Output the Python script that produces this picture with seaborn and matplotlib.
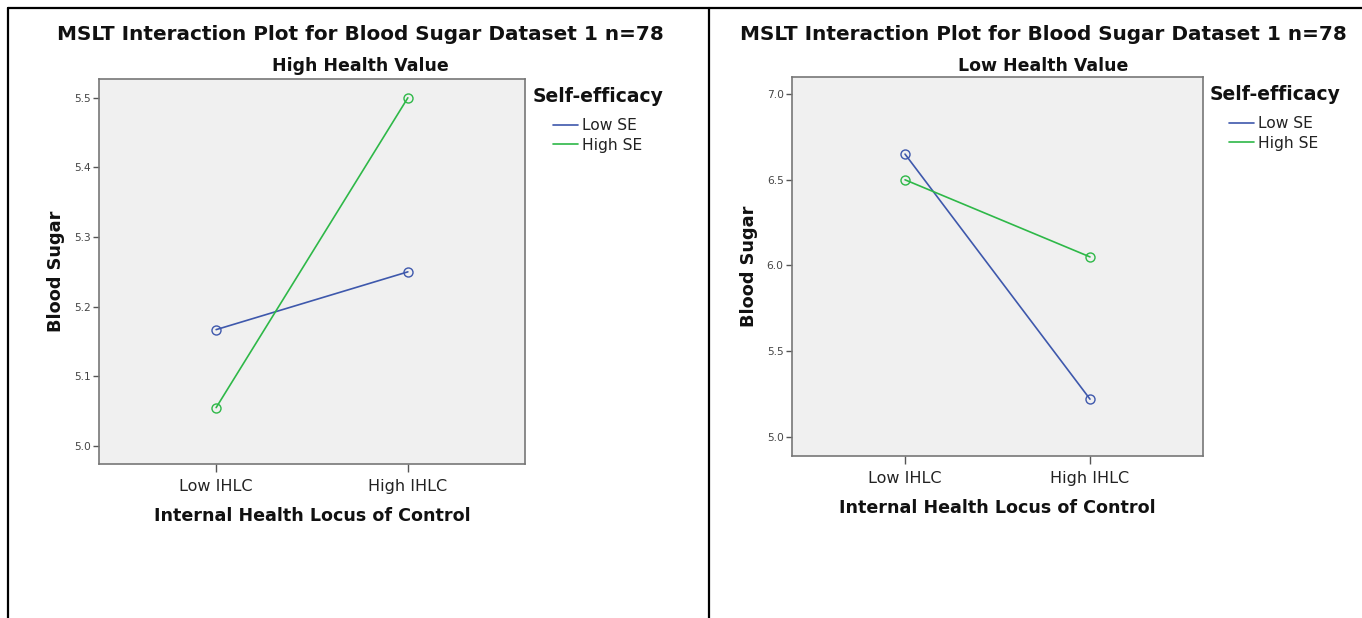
import matplotlib
matplotlib.use("Agg")
import matplotlib.pyplot as plt
import seaborn as sns
import pandas as pd
from matplotlib.lines import Line2D

categories = ["Low IHLC", "High IHLC"]
groups = ["Low SE", "High SE"]
high_hv_low_se = [5.167, 5.250]
high_hv_high_se = [5.055, 5.500]
low_hv_low_se = [6.65, 5.22]
low_hv_high_se = [6.50, 6.05]
yticks_left = [5.0, 5.1, 5.2, 5.3, 5.4, 5.5]
yticks_right = [5.0, 5.5, 6.0, 6.5, 7.0]

colors = {"Low SE": "#3E58AC", "High SE": "#2EB848"}

sns.set_theme(style="white")
plt.rcParams["font.family"] = ["DejaVu Sans"]
plt.rcParams["text.color"] = "#111111"
plt.rcParams["axes.labelcolor"] = "#111111"

W, H = 1362, 618
fig = plt.figure(figsize=(W / 100, H / 100), dpi=100)


def make_df(low, high):
    rows = []
    for g, vals in zip(groups, [low, high]):
        for i, (c, v) in enumerate(zip(categories, vals)):
            rows.append({"pos": i, "cat": c, "Self-efficacy": g, "val": v})
    return pd.DataFrame(rows)


def panel(rect_px, df, yticks, ylim, subtitle, center_x, leg_title_xy, leg_xy):
    x0, y0, x1, y1 = rect_px
    ax = fig.add_axes([x0 / W, 1 - y1 / H, (x1 - x0) / W, (y1 - y0) / H])
    ax.set_facecolor("#F0F0F0")
    sns.lineplot(data=df, x="pos", y="val", hue="Self-efficacy", palette=colors,
                 hue_order=groups, marker="o", markersize=6.5, linewidth=1.2,
                 legend=False, ax=ax)
    for ln in ax.lines:
        ln.set_markerfacecolor("none")
        ln.set_markeredgecolor(ln.get_color())
        ln.set_markeredgewidth(1.0)
    ax.set_xlim(-0.611, 1.611)
    ax.set_ylim(*ylim)
    ax.set_xticks([0, 1])
    ax.set_xticklabels(categories, fontsize=11.5, color="#222222")
    ax.set_yticks(yticks)
    ax.set_yticklabels([f"{t:.1f}" for t in yticks], fontsize=7.7, color="#444444")
    ax.tick_params(axis="x", direction="out", length=6, width=1, color="#555555", pad=5, bottom=True)
    ax.tick_params(axis="y", direction="out", length=4, width=1, color="#555555", pad=2, left=True)
    for s in ax.spines.values():
        s.set_color("#777777")
        s.set_linewidth(1.2)
    ax.set_xlabel("Internal Health Locus of Control", fontsize=12.6, fontweight="bold", labelpad=9)
    ax.set_ylabel("Blood Sugar", fontsize=12.8, fontweight="bold", labelpad=6)
    fig.text(center_x / W, 1 - 34 / H, "MSLT Interaction Plot for Blood Sugar Dataset 1 n=78",
             ha="center", va="center", fontsize=14.4, fontweight="bold")
    fig.text(center_x / W, 1 - 66 / H, subtitle, ha="center", va="center",
             fontsize=12.5, fontweight="bold")
    fig.text(leg_title_xy[0] / W, 1 - leg_title_xy[1] / H, "Self-efficacy", ha="left",
             va="center", fontsize=13.5, fontweight="bold")
    handles = [Line2D([0], [0], color=colors[g], lw=1.2) for g in groups]
    leg = fig.legend(handles, groups, loc="upper left",
                     bbox_to_anchor=(leg_xy[0] / W, 1 - leg_xy[1] / H), frameon=False,
                     fontsize=11.2, handlelength=1.6, handletextpad=0.25, labelspacing=0.3,
                     borderpad=0, borderaxespad=0)
    for t in leg.get_texts():
        t.set_color("#222222")
    return ax


panel((99, 79, 525, 464), make_df(high_hv_low_se, high_hv_high_se), yticks_left,
      (4.974, 5.527), "High Health Value", 360, (533, 97), (553, 118))
panel((792, 77, 1203, 456), make_df(low_hv_low_se, low_hv_high_se), yticks_right,
      (4.888, 7.10), "Low Health Value", 1043, (1210, 95), (1229, 116))

# table-cell borders
for (xa, ya, xb, yb) in [(8, 8, W, 8), (8, 8, 8, H), (709, 8, 709, H)]:
    fig.add_artist(Line2D([xa / W, xb / W], [1 - ya / H, 1 - yb / H], color="black", lw=1.6))

fig.savefig("out.png", dpi=100)
